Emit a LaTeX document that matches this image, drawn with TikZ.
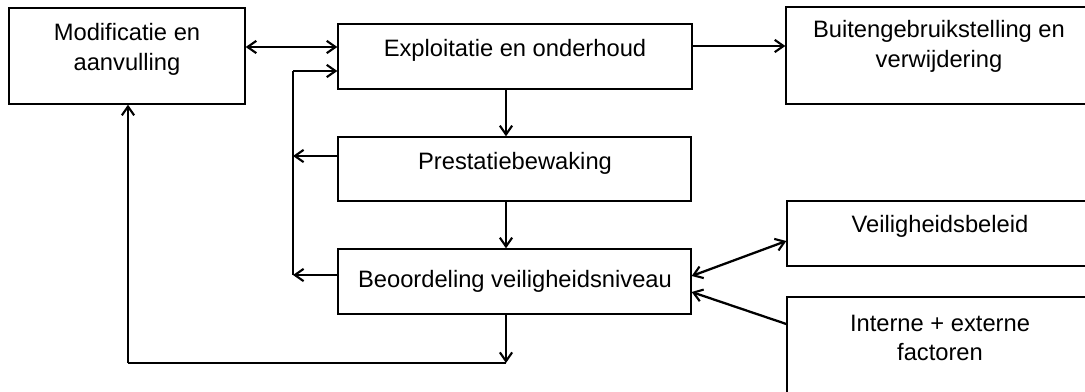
\documentclass[tikz,border=0pt]{standalone}
\usepackage{fontspec}
\setmainfont{Liberation Sans}
\usetikzlibrary{arrows.meta,calc}
\begin{document}
\begin{tikzpicture}[x=0.02cm,y=-0.02cm,
  box/.style={draw=black,line width=0.8pt,rectangle,inner sep=0pt},
  txt/.style={font=\fontsize{13.5}{17}\selectfont,align=center,inner sep=0pt},
  tip/.tip={Straight Barb[length=5pt,width=7pt,line width=1.2pt]},
  conn/.style={line width=1.3pt,-tip},
  dconn/.style={line width=1.3pt,tip-tip},
  plain/.style={line width=1.3pt}]
\useasboundingbox (0,0) rectangle (1085,392);
\clip (0,0) rectangle (1085,392);
\fill[white] (0,0) rectangle (1085,392);
% boxes
\node[box,minimum width=4.72cm,minimum height=1.92cm] (mod) at (127,56) {};
\node[box,minimum width=7.08cm,minimum height=1.30cm] (exp) at (515,56.5) {};
\node[box,minimum width=6.14cm,minimum height=1.94cm] (buit) at (939.5,55.5) {};
\node[box,minimum width=7.06cm,minimum height=1.28cm] (pres) at (514.5,169) {};
\node[box,minimum width=7.06cm,minimum height=1.30cm] (beo) at (514.5,281.5) {};
\node[box,minimum width=6.12cm,minimum height=1.30cm] (veil) at (940,233.5) {};
\node[box,minimum width=6.12cm,minimum height=2.60cm] (int) at (940,362) {};
% texts
\node[txt] (modt) at (127,49) {Modificatie en\\aanvulling};
\node[txt] (expt) at (515,50) {Exploitatie en onderhoud};
\node[txt] (buitt) at (939,46) {Buitengebruikstelling en\\verwijdering};
\node[txt] (prest) at (515,163) {Prestatiebewaking};
\node[txt] (beot) at (515,281) {Beoordeling veiligheidsniveau};
\node[txt] (veilt) at (940,226) {Veiligheidsbeleid};
\node[txt] (intt) at (940,338) {Interne + externe\\factoren};
% helper coordinates
\coordinate (y47) at (0,47);
\coordinate (y46) at (0,46);
\coordinate (y71) at (0,71);
\coordinate (y156) at (0,156);
\coordinate (y275) at (0,275);
\coordinate (x506) at (506,0);
\coordinate (lt) at (293,71);
\coordinate (lb) at (293,275);
\coordinate (bt) at (506,363);
\coordinate (bl) at (128,363);
% connectors
\draw[dconn] (mod.east |- y47) -- (exp.west |- y47);
\draw[conn] (exp.east |- y46) -- (buit.west |- y46);
\draw[plain] (lb) -- (lt);
\draw[conn] (lt) -- (exp.west |- y71);
\draw[conn] (pres.west |- y156) -- (lt |- y156);
\draw[conn] (beo.west |- y275) -- (lb);
\draw[conn] (exp.south -| x506) -- (pres.north -| x506);
\draw[conn] (pres.south -| x506) -- (beo.north -| x506);
\draw[conn] (beo.south -| x506) -- (bt);
\draw[plain] (bt) -- (bl);
\draw[conn] (bl) -- (mod.south -| bl);
\draw[dconn] ($(beo.east)+(0,-5.5)$) -- ($(veil.west)+(0,7.5)$);
\draw[conn] ($(int.west)+(0,-38)$) -- ($(beo.east)+(0,10.5)$);
\end{tikzpicture}
\end{document}
